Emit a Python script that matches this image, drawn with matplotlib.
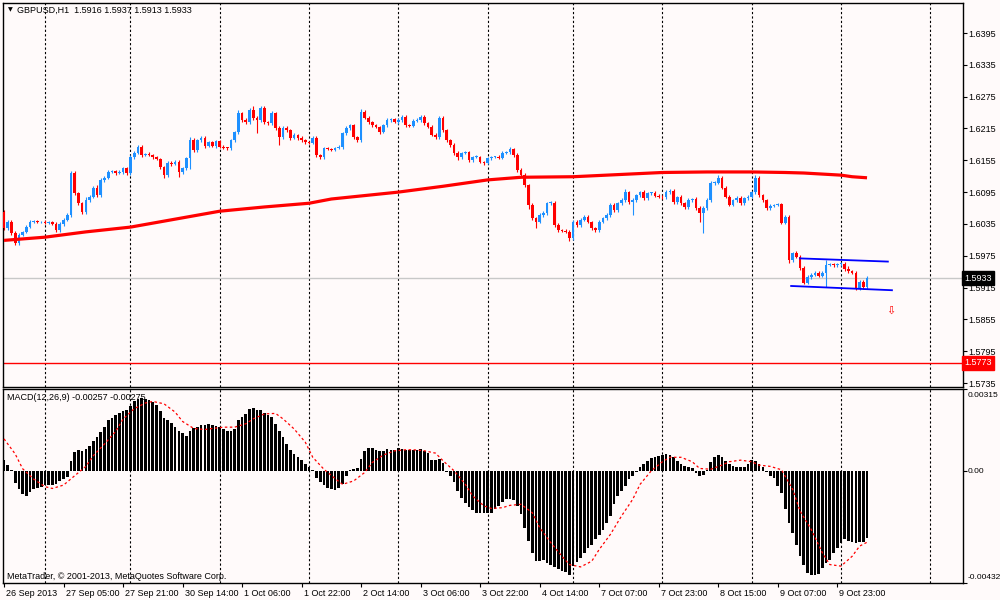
import matplotlib
matplotlib.use('Agg')
import matplotlib.pyplot as plt
import matplotlib.transforms as mtransforms
import numpy as np

plt.rcParams['font.family'] = ['Liberation Sans', 'DejaVu Sans']

# hourly GBPUSD closes, 26 Sep 2013 13:00 .. 10 Oct 2013 07:00 (bar index 0..232)
first_open = 1.6058
closes = [
    1.6027, 1.6039, 1.6018, 1.5999, 1.6014, 1.6020, 1.6029, 1.6039, 1.6040, 1.6038,
    1.6039, 1.6037, 1.6038, 1.6035, 1.6023, 1.6035, 1.6043, 1.6052, 1.6131, 1.6093,
    1.6074, 1.6057, 1.6080, 1.6086, 1.6103, 1.6089, 1.6118, 1.6122, 1.6133, 1.6134,
    1.6131, 1.6133, 1.6140, 1.6131, 1.6161, 1.6169, 1.6180, 1.6165, 1.6167, 1.6165,
    1.6161, 1.6157, 1.6142, 1.6127, 1.6150, 1.6148, 1.6152, 1.6133, 1.6140, 1.6159,
    1.6193, 1.6174, 1.6193, 1.6197, 1.6182, 1.6189, 1.6182, 1.6191, 1.6180, 1.6179,
    1.6178, 1.6193, 1.6208, 1.6244, 1.6231, 1.6227, 1.6250, 1.6235, 1.6231, 1.6254,
    1.6227, 1.6225, 1.6244, 1.6216, 1.6199, 1.6216, 1.6212, 1.6197, 1.6203, 1.6197,
    1.6193, 1.6189, 1.6188, 1.6197, 1.6165, 1.6161, 1.6178, 1.6177, 1.6175, 1.6178,
    1.6180, 1.6206, 1.6216, 1.6221, 1.6199, 1.6193, 1.6246, 1.6235, 1.6227, 1.6221,
    1.6218, 1.6208, 1.6221, 1.6231, 1.6232, 1.6227, 1.6231, 1.6237, 1.6221, 1.6220,
    1.6229, 1.6231, 1.6237, 1.6225, 1.6218, 1.6203, 1.6199, 1.6235, 1.6212, 1.6193,
    1.6184, 1.6169, 1.6161, 1.6169, 1.6170, 1.6155, 1.6161, 1.6162, 1.6152, 1.6150,
    1.6159, 1.6161, 1.6162, 1.6160, 1.6169, 1.6170, 1.6176, 1.6165, 1.6137, 1.6127,
    1.6108, 1.6071, 1.6046, 1.6039, 1.6052, 1.6055, 1.6074, 1.6075, 1.6033, 1.6023,
    1.6022, 1.6020, 1.6008, 1.6039, 1.6033, 1.6043, 1.6048, 1.6039, 1.6027, 1.6023,
    1.6039, 1.6046, 1.6052, 1.6071, 1.6061, 1.6074, 1.6080, 1.6095, 1.6076, 1.6080,
    1.6089, 1.6095, 1.6084, 1.6093, 1.6094, 1.6088, 1.6086, 1.6085, 1.6095, 1.6097,
    1.6076, 1.6086, 1.6074, 1.6067, 1.6080, 1.6082, 1.6065, 1.6055, 1.6065, 1.6080,
    1.6112, 1.6113, 1.6122, 1.6103, 1.6086, 1.6071, 1.6080, 1.6084, 1.6074, 1.6084,
    1.6086, 1.6095, 1.6122, 1.6089, 1.6080, 1.6065, 1.6069, 1.6071, 1.6072, 1.6037,
    1.6048, 1.5967, 1.5980, 1.5973, 1.5952, 1.5924, 1.5935, 1.5939, 1.5943, 1.5937,
    1.5943, 1.5958, 1.5959, 1.5957, 1.5959, 1.5960, 1.5950, 1.5946, 1.5943, 1.5914,
    1.5926, 1.5916, 1.5933,
]
# upper / lower shadows in pips
wick_up = [
    4, 3, 4, 3, 3, 2, 4, 3, 2, 2, 2, 3, 2, 2, 3, 3, 3, 3, 4, 3,
    3, 2, 5, 3, 4, 6, 3, 4, 3, 3, 2, 3, 3, 2, 4, 3, 4, 3, 2, 3,
    2, 3, 2, 3, 4, 3, 3, 4, 3, 3, 6, 4, 3, 4, 3, 3, 2, 3, 2, 3,
    2, 3, 3, 5, 3, 3, 4, 8, 4, 3, 3, 3, 4, 3, 3, 3, 3, 2, 3, 2,
    3, 2, 2, 3, 3, 2, 3, 2, 2, 2, 3, 3, 3, 3, 3, 2, 5, 3, 3, 2,
    2, 2, 3, 4, 3, 2, 3, 3, 3, 2, 3, 4, 3, 3, 2, 3, 3, 3, 3, 2,
    2, 3, 3, 2, 2, 3, 2, 3, 2, 2, 3, 2, 2, 3, 3, 2, 4, 3, 3, 3,
    4, 3, 3, 3, 3, 4, 3, 3, 4, 3, 2, 3, 3, 3, 3, 4, 3, 3, 2, 3,
    3, 3, 3, 4, 3, 3, 4, 5, 3, 3, 3, 3, 4, 3, 2, 3, 3, 3, 4, 3,
    3, 2, 3, 3, 3, 2, 3, 3, 3, 3, 4, 3, 5, 3, 3, 3, 2, 3, 3, 2,
    3, 3, 6, 3, 3, 2, 3, 2, 3, 3, 3, 4, 3, 4, 3, 3, 3, 3, 3, 4,
    3, 9, 3, 3, 3, 3, 3, 5, 3, 3, 3, 3, 4,
]
wick_dn = [
    3, 3, 3, 4, 3, 2, 3, 2, 2, 2, 2, 2, 2, 2, 3, 3, 3, 2, 3, 3,
    3, 4, 3, 3, 3, 4, 3, 3, 3, 2, 3, 2, 3, 3, 3, 3, 2, 3, 2, 2,
    3, 2, 3, 5, 3, 3, 2, 10, 4, 3, 20, 3, 3, 3, 3, 2, 2, 3, 2, 3,
    3, 3, 3, 3, 3, 3, 3, 4, 25, 3, 3, 3, 3, 3, 15, 3, 3, 3, 2, 3,
    3, 3, 3, 3, 4, 3, 3, 2, 2, 2, 2, 3, 3, 3, 3, 3, 3, 3, 3, 3,
    3, 3, 2, 3, 3, 2, 3, 3, 3, 2, 3, 2, 3, 3, 3, 3, 3, 3, 3, 3,
    3, 4, 5, 3, 3, 3, 3, 2, 2, 3, 2, 3, 2, 3, 3, 2, 3, 3, 4, 3,
    4, 8, 4, 12, 3, 3, 3, 3, 4, 3, 3, 3, 5, 3, 3, 3, 3, 3, 3, 3,
    3, 3, 3, 3, 3, 3, 3, 3, 3, 25, 3, 3, 3, 3, 3, 3, 3, 3, 3, 3,
    4, 3, 3, 3, 3, 3, 3, 16, 37, 3, 3, 3, 3, 3, 3, 3, 3, 3, 3, 3,
    3, 3, 3, 3, 3, 3, 3, 3, 3, 3, 3, 5, 3, 3, 4, 3, 3, 3, 3, 3,
    3, 26, 3, 3, 3, 3, 3, 3, 3, 3, 3, 3, 3,
]

# moving average (thick red line), read at a few bars
ma_idx = [0, 11, 22, 34, 46, 58, 70, 82, 88, 106, 118, 130, 139, 153, 165, 177,
          189, 201, 210, 215, 220, 225, 228, 232]
ma_val = [1.6004, 1.6010, 1.6020, 1.6029, 1.6044, 1.6059, 1.6067, 1.6074, 1.6082,
          1.6095, 1.6106, 1.6118, 1.6123, 1.6124, 1.6128, 1.6132, 1.6133, 1.6133,
          1.6132, 1.6131, 1.6129, 1.6127, 1.6124, 1.6122]

# MACD(12,26,9) histogram, units of 1e-5
macd_e5 = [
    43, 22, 3, -48, -71, -90, -97, -81, -71, -65, -61, -55, -55, -53, -49, -39, -32, -23, 39, 74,
    80, 77, 84, 97, 116, 129, 151, 170, 194, 203, 213, 222, 230, 235, 248, 267, 275, 280, 277, 273,
    264, 252, 232, 203, 194, 183, 168, 155, 144, 135, 155, 165, 170, 177, 177, 181, 177, 174, 168, 161,
    155, 152, 161, 194, 206, 219, 239, 241, 235, 235, 222, 213, 206, 181, 155, 129, 103, 81, 65, 54,
    41, 26, 13, 4, -26, -45, -55, -65, -71, -74, -68, -52, -19, 4, 6, 9, 45, 77, 86, 86,
    81, 77, 77, 84, 81, 81, 86, 84, 81, 81, 81, 81, 84, 77, 68, 41, 41, 45, 30, -3,
    -19, -45, -77, -103, -123, -139, -152, -161, -164, -161, -164, -161, -148, -135, -120, -110, -107, -112, -135, -168,
    -219, -271, -316, -348, -348, -342, -355, -361, -370, -378, -384, -391, -400, -368, -352, -335, -316, -297, -284, -264,
    -249, -226, -200, -174, -129, -97, -77, -58, -32, -19, -4, 13, 26, 39, 49, 54, 58, 61, 63, 61,
    52, 39, 26, 17, 13, 9, -9, -19, -15, 4, 35, 55, 61, 52, 39, 26, 17, 13, 13, 15,
    26, 41, 39, 26, 13, -6, -19, -28, -58, -84, -148, -200, -241, -284, -329, -361, -393, -400, -400, -396,
    -374, -355, -342, -316, -297, -277, -264, -271, -273, -277, -275, -273, -257,
]
# signal line, units of 1e-5
sig_idx = [0, 3, 5, 8, 11, 13, 16, 19, 22, 24, 27, 30, 32, 35, 38, 40, 43, 46, 48, 51,
           54, 56, 59, 62, 65, 67, 70, 73, 75, 78, 81, 83, 86, 89, 91, 94, 97, 99, 102, 105,
           108, 110, 113, 116, 118, 121, 124, 126, 129, 131, 134, 136, 139, 142, 144, 147, 150, 152, 155, 158,
           160, 163, 166, 169, 171, 174, 177, 179, 182, 185, 187, 190, 193, 195, 198, 201, 203, 206, 209, 212,
           214, 217, 220, 222, 225, 228, 230, 232]
sig_e5 = [123, 65, 8, -32, -61, -68, -55, -19, 17, 58, 103, 151, 199, 239, 261, 267, 258, 226, 190, 163,
          159, 163, 168, 168, 181, 200, 219, 221, 200, 161, 110, 52, 6, -30, -52, -39, -6, 32, 61, 77,
          81, 81, 77, 68, 39, 0, -52, -97, -135, -145, -142, -133, -129, -161, -219, -277, -329, -361, -370, -348,
          -303, -245, -174, -110, -52, 0, 35, 52, 52, 35, 9, 6, 22, 35, 41, 35, 22, 17, 4, -71,
          -155, -226, -316, -361, -367, -329, -290, -275]

# drawn objects
chan_top_idx = [214.0, 237.6]
chan_top_val = [1.5970, 1.5964]
chan_low_idx = [211.6, 238.7]
chan_low_val = [1.5918, 1.5910]
arrow_idx, arrow_val = 238.4, 1.5872
bid_price = 1.5933
level_price = 1.5773

price_ticks = [1.6395, 1.6335, 1.6275, 1.6215, 1.6155, 1.6095, 1.6035, 1.5975,
               1.5915, 1.5855, 1.5795, 1.5735]
macd_ticks = [0.00315, 0.0, -0.00432]
macd_tick_labels = ['0.00315', '0.00', '-0.00432']
grid_idx = [11, 34, 58, 82, 106, 130, 153, 177, 201, 225, 249]
time_idx = [0, 16, 32, 48, 64, 80, 96, 112, 128, 144, 160, 176, 192, 208, 224]
time_labels = ['26 Sep 2013', '27 Sep 05:00', '27 Sep 21:00', '30 Sep 14:00',
               '1 Oct 06:00', '1 Oct 22:00', '2 Oct 14:00', '3 Oct 06:00',
               '3 Oct 22:00', '4 Oct 14:00', '7 Oct 07:00', '7 Oct 23:00',
               '8 Oct 15:00', '9 Oct 07:00', '9 Oct 23:00']

BG = '#fffafa'
BULL = '#1e90ff'
BEAR = '#ff0000'
FS = 6.5

c = np.array(closes)
o = np.array([first_open] + closes[:-1])
idx = np.arange(len(c))
hi = np.maximum(o, c) + np.array(wick_up) * 1e-4
lo = np.minimum(o, c) - np.array(wick_dn) * 1e-4
cols = np.where(c >= o, BULL, BEAR)

fig = plt.figure(figsize=(10, 6), dpi=100, facecolor=BG)
ax = fig.add_axes([0.003, 0.355, 0.960, 0.640], facecolor=BG)
ax2 = fig.add_axes([0.003, 0.0283, 0.960, 0.3234], facecolor=BG, sharex=ax)

for a in (ax, ax2):
    for s in a.spines.values():
        s.set_linewidth(1.0)
        s.set_color('black')
    for g in grid_idx:
        a.axvline(g, color='black', lw=0.8, ls=(0, (2, 2)), zorder=0.5)
    a.yaxis.tick_right()
    a.tick_params(axis='y', direction='out', length=3, width=0.8, pad=1,
                  labelsize=FS, colors='black')

# price panel
ax.axhline(bid_price, color='#c8c8c8', lw=1, zorder=1)
ax.axhline(level_price, color='red', lw=1, zorder=1)
ax.vlines(idx, lo, hi, colors=cols, lw=0.8, zorder=2)
ax.bar(idx, np.maximum(np.abs(c - o), 0.00015), bottom=np.minimum(o, c),
       width=0.72, color=cols, linewidth=0, zorder=3)
ax.plot(ma_idx, ma_val, color='red', lw=2.3, zorder=4, solid_capstyle='butt')
ax.plot(chan_top_idx, chan_top_val, color='#0000ff', lw=1.3, zorder=5)
ax.plot(chan_low_idx, chan_low_val, color='#0000ff', lw=1.3, zorder=5)
ax.text(arrow_idx, arrow_val, '\u21e9', color='red', fontsize=8, ha='center',
        va='center', family='DejaVu Sans', zorder=6)

ax.set_xlim(-0.27, 257.8)
ax.set_ylim(1.57275, 1.64516)
ax.set_yticks(price_ticks)
ax.set_yticklabels([f'{p:.4f}' for p in price_ticks])
ax.tick_params(axis='x', bottom=False, labelbottom=False)

trans = mtransforms.blended_transform_factory(ax.transAxes, ax.transData)
ax.text(1.0015, bid_price, f'{bid_price:.4f}', transform=trans, color='white',
        fontsize=FS, va='center', ha='left', zorder=10,
        bbox=dict(boxstyle='square,pad=0.25', facecolor='black', edgecolor='black'))
ax.text(1.0015, level_price, f'{level_price:.4f}', transform=trans, color='white',
        fontsize=FS, va='center', ha='left', zorder=10,
        bbox=dict(boxstyle='square,pad=0.25', facecolor='red', edgecolor='red'))

ax.text(0.0055, 0.982, '\u25bc', transform=ax.transAxes, fontsize=4.5,
        va='center', ha='left', family='DejaVu Sans')
ax.text(0.0146, 0.982, 'GBPUSD,H1  1.5916 1.5937 1.5913 1.5933',
        transform=ax.transAxes, fontsize=FS, va='center', ha='left')

# MACD panel
macd = np.array(macd_e5) * 1e-5
sig = np.array(sig_e5) * 1e-5
ax2.bar(idx, macd, width=0.72, color='black', linewidth=0, zorder=2)
ax2.plot(sig_idx, sig, color='red', lw=0.9, ls=(0, (2, 2)), zorder=3)
ax2.set_ylim(-0.00432, 0.00315)
ax2.set_yticks(macd_ticks)
ax2.set_yticklabels(macd_tick_labels)
ax2.tick_params(axis='y', labelsize=6.0, pad=0.5)
ylabs = ax2.get_yticklabels()
ylabs[0].set_va('top')
ylabs[2].set_va('bottom')
down = mtransforms.ScaledTranslation(0, -2.5 / 72, fig.dpi_scale_trans)
up = mtransforms.ScaledTranslation(0, 1.5 / 72, fig.dpi_scale_trans)
ylabs[0].set_transform(ylabs[0].get_transform() + down)
ylabs[2].set_transform(ylabs[2].get_transform() + up)

ax2.set_xticks(time_idx)
ax2.set_xticklabels(time_labels, ha='left')
ax2.tick_params(axis='x', direction='out', length=3, width=0.8, pad=1,
                labelsize=FS)
shift = mtransforms.ScaledTranslation(1.5 / 72, 0, fig.dpi_scale_trans)
for lab in ax2.get_xticklabels():
    lab.set_transform(lab.get_transform() + shift)

ax2.text(0.0045, 0.958, 'MACD(12,26,9) -0.00257 -0.00275', transform=ax2.transAxes,
         fontsize=FS, va='center', ha='left')
ax2.text(0.0045, 0.032, 'MetaTrader, \u00a9 2001-2013, MetaQuotes Software Corp.',
         transform=ax2.transAxes, fontsize=FS, va='center', ha='left')

fig.savefig('out.png', dpi=100, facecolor=BG)
